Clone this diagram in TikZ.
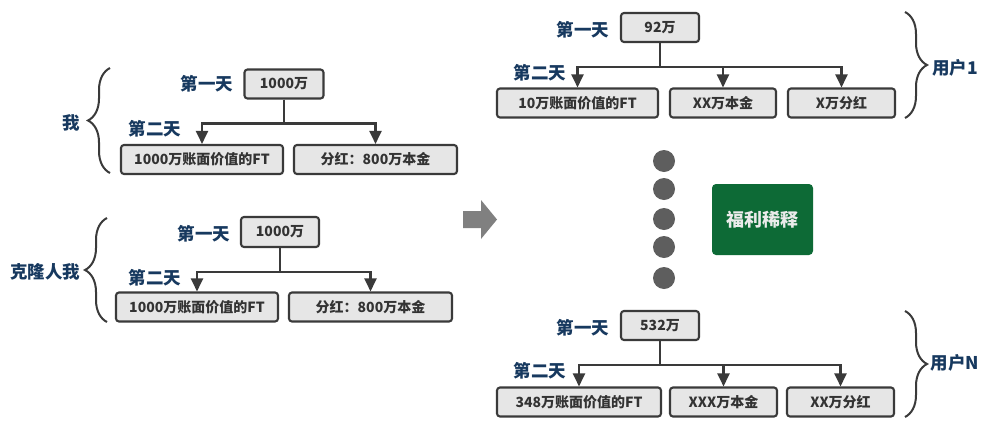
\documentclass[tikz,border=0pt]{standalone}
\usepackage{fontspec}
\setmainfont{Noto Sans CJK SC}
\usetikzlibrary{decorations.pathreplacing,arrows.meta}
\definecolor{boxfill}{HTML}{E6E6E6}
\definecolor{boxline}{HTML}{3A3A3A}
\definecolor{lblue}{HTML}{17395F}
\definecolor{dgreen}{HTML}{0D6A36}
\definecolor{dotgray}{HTML}{5E5E5E}
\definecolor{arrgray}{HTML}{808080}
\definecolor{txtgray}{HTML}{333333}
\begin{document}
\begin{tikzpicture}[x=1pt,y=-1pt,
 box/.style={draw=boxline, fill=boxfill, line width=2.1pt, rounded corners=3pt, minimum height=29pt, inner sep=0pt, font=\bfseries\fontsize{14}{14}\selectfont, text=txtgray},
 day/.style={font=\bfseries\fontsize{17.5}{17.5}\selectfont, text=lblue, inner sep=0pt},
 who/.style={font=\bfseries\fontsize{17.5}{17.5}\selectfont, text=lblue, inner sep=0pt},
 link/.style={draw=boxline, line width=2.2pt, -{Triangle[length=13pt,width=12pt]}},
 brc/.style={draw=boxline, line width=2pt, decorate, decoration={brace, amplitude=22pt}},
 dotn/.style={circle, fill=dotgray, minimum size=22pt, inner sep=0pt},
]
\useasboundingbox[fill=white] (0,0) rectangle (999,445);

% group 1
\node[box, minimum width=79pt] (t1) at (284,84) {1000万};
\node[box, minimum width=162pt] (c1a) at (202,159.5) {1000万账面价值的FT};
\node[box, minimum width=163pt] (c1b) at (375.5,159.5) {分红：800万本金};
\node[day] (d1a) at (207,84) {第一天};
\node[day] (d1b) at (155,129) {第二天};
\draw[link] (t1.south) -- ++(0,24) -| (c1a.north);
\draw[link] (t1.south) -- ++(0,24) -| (c1b.north);
\coordinate (b1top) at (110,68);
\coordinate (b1bot) at (110,173);
\draw[brc] (b1bot) -- (b1top);
\node[who] (w1) at (71,123) {我};

% group 2
\node[box, minimum width=78pt, minimum height=30pt] (t2) at (280,232) {1000万};
\node[box, minimum width=162pt] (c2a) at (197,307) {1000万账面价值的FT};
\node[box, minimum width=163pt] (c2b) at (370.5,307) {分红：800万本金};
\node[day] (d2a) at (204,234) {第一天};
\node[day] (d2b) at (155,278) {第二天};
\draw[link] (t2.south) -- ++(0,24) -| (c2a.north);
\draw[link] (t2.south) -- ++(0,24) -| (c2b.north);
\coordinate (b2top) at (107,218);
\coordinate (b2bot) at (107,322);
\draw[brc] (b2bot) -- (b2top);
\node[who] (w2) at (45,272) {克隆人我};

% big arrow
\fill[arrgray] (463,211) -- (481,211) -- (481,200) -- (497,219.5) -- (481,239) -- (481,228) -- (463,228) -- cycle;

% right top
\node[box, minimum width=78pt] (t3) at (660,27.5) {92万};
\node[box, minimum width=161pt] (c3a) at (577.5,103) {10万账面价值的FT};
\node[box, minimum width=106pt] (c3b) at (723,103) {XX万本金};
\node[box, minimum width=107pt] (c3c) at (841.5,103) {X万分红};
\node[day] (d3a) at (583,30) {第一天};
\node[day] (d3b) at (540,73) {第二天};
\draw[link] (t3.south) -- ++(0,24) -| (c3a.north);
\draw[link] (t3.south) -- ++(0,24) -| (c3b.north);
\draw[link] (t3.south) -- ++(0,24) -| (c3c.north);
\coordinate (b3top) at (905,12);
\coordinate (b3bot) at (905,118);
\draw[brc] (b3top) -- (b3bot);
\node[who] (w3) at (955,68) {用户1};

% dots
\node[dotn] (p1) at (664,161) {};
\node[dotn] (p2) at (664,189) {};
\node[dotn] (p3) at (664,219) {};
\node[dotn] (p4) at (664,247) {};
\node[dotn] (p5) at (664,278) {};

% green box
\node[fill=dgreen, rounded corners=4pt, minimum width=101pt, minimum height=71pt, inner sep=0pt, text=white!92!black, font=\bfseries\fontsize{18}{18}\selectfont] (g) at (762.5,219.5) {福利稀释};

% right bottom
\node[box, minimum width=78pt] (t4) at (660,325.5) {532万};
\node[box, minimum width=164pt] (c4a) at (579,402) {348万账面价值的FT};
\node[box, minimum width=107pt] (c4b) at (723.5,402) {XXX万本金};
\node[box, minimum width=107pt] (c4c) at (840.5,402) {XX万分红};
\node[day] (d4a) at (583,328) {第一天};
\node[day] (d4b) at (540,371) {第二天};
\draw[link] (t4.south) -- ++(0,24) -| (c4a.north);
\draw[link] (t4.south) -- ++(0,24) -| (c4b.north);
\draw[link] (t4.south) -- ++(0,24) -| (c4c.north);
\coordinate (b4top) at (905,311);
\coordinate (b4bot) at (905,417);
\draw[brc] (b4top) -- (b4bot);
\node[who] (w4) at (955,363) {用户N};
\end{tikzpicture}
\end{document}
